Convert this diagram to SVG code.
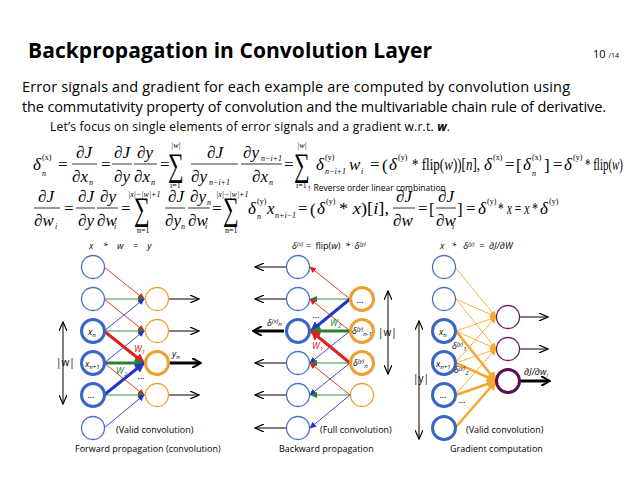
<svg xmlns="http://www.w3.org/2000/svg" width="638" height="493" viewBox="0 0 638 493">
<style>
.t{font-family:"Open Sans","Liberation Sans",sans-serif;fill:#000}
.m{font-family:"Liberation Serif",serif;font-size:17px;fill:#000}
.i{font-style:italic}
.s{font-size:8px}
.sg{font-size:22px}
.fl{stroke:#000;stroke-width:0.8}
.bc{fill:#fff;stroke:#4472C4;stroke-width:1.3}
.bt{fill:#fff;stroke:#3A66C8;stroke-width:3}
.oc{fill:#fff;stroke:#F0A030;stroke-width:1.3}
.ot{fill:#fff;stroke:#F0A030;stroke-width:3}
.pc{fill:#fff;stroke:#6A1F6A;stroke-width:1.3}
.pt{fill:#fff;stroke:#5A1050;stroke-width:3}
.r{stroke:#E02020;fill:none}
.g{stroke:#2A8030;fill:none}
.b{stroke:#2535C8;fill:none}
.o{stroke:#F5A830;fill:none}
.k{stroke:#000;fill:none}
.lbl{font-family:"Open Sans","Liberation Sans",sans-serif;font-size:9px;font-style:italic}
.cap{font-family:"Open Sans","Liberation Sans",sans-serif;font-size:9px}
</style>
<defs>
<marker id="ar" markerWidth="7" markerHeight="6" refX="6" refY="3" orient="auto" markerUnits="userSpaceOnUse"><path d="M0,0L7,3L0,6z" fill="#E02020"/></marker>
<marker id="ag" markerWidth="7" markerHeight="6" refX="6" refY="3" orient="auto" markerUnits="userSpaceOnUse"><path d="M0,0L7,3L0,6z" fill="#2A8030"/></marker>
<marker id="ab" markerWidth="7" markerHeight="6" refX="6" refY="3" orient="auto" markerUnits="userSpaceOnUse"><path d="M0,0L7,3L0,6z" fill="#2535C8"/></marker>
<marker id="ao" markerWidth="7" markerHeight="6" refX="6" refY="3" orient="auto" markerUnits="userSpaceOnUse"><path d="M0,0L7,3L0,6z" fill="#F5A830"/></marker>
<marker id="arT" markerWidth="10" markerHeight="10" refX="9" refY="5" orient="auto" markerUnits="userSpaceOnUse"><path d="M0,0L10,5L0,10z" fill="#E02020"/></marker>
<marker id="agT" markerWidth="10" markerHeight="10" refX="9" refY="5" orient="auto" markerUnits="userSpaceOnUse"><path d="M0,0L10,5L0,10z" fill="#2A8030"/></marker>
<marker id="abT" markerWidth="10" markerHeight="10" refX="9" refY="5" orient="auto" markerUnits="userSpaceOnUse"><path d="M0,0L10,5L0,10z" fill="#2535C8"/></marker>
<marker id="aoT" markerWidth="10" markerHeight="10" refX="9" refY="5" orient="auto" markerUnits="userSpaceOnUse"><path d="M0,0L10,5L0,10z" fill="#F5A830"/></marker>
<marker id="ak" markerWidth="10" markerHeight="8" refX="9" refY="4" orient="auto-start-reverse" markerUnits="userSpaceOnUse"><path d="M0,0L9,4L0,8" fill="none" stroke="#000" stroke-width="1.2"/></marker>
<marker id="akb" markerWidth="10" markerHeight="10" refX="8" refY="5" orient="auto-start-reverse" markerUnits="userSpaceOnUse"><path d="M0,0L9,5L0,10" fill="none" stroke="#000" stroke-width="2"/></marker>
</defs>
<rect width="638" height="493" fill="#fff"/>
<text class="t" x="28" y="58" font-size="21" font-weight="bold" textLength="404">Backpropagation in Convolution Layer</text>
<text class="t" x="593" y="58" font-size="11">10 <tspan font-size="7">/14</tspan></text>
<text class="t" x="22" y="92" font-size="14.5" textLength="548">Error signals and gradient for each example are computed by convolution using</text>
<text class="t" x="22" y="112" font-size="14.5" textLength="584">the commutativity property of convolution and the multivariable chain rule of derivative.</text>
<text class="t" x="50" y="131" font-size="12" textLength="400">Let’s focus on single elements of error signals and a gradient w.r.t. <tspan font-style="italic" font-weight="bold">w</tspan>.</text>

<g id="eq1">
<text class="m i" x="33" y="170">δ</text><text class="m s i" x="42" y="176">n</text><text class="m s" x="42" y="160">(x)</text>
<text class="m" x="58" y="170">=</text>
<text class="m i" x="76" y="158">∂J</text><line class="fl" x1="72" y1="164" x2="97" y2="164"/><text class="m i" x="72" y="182">∂x</text><text class="m s i" x="89" y="185">n</text>
<text class="m" x="101" y="170">=</text>
<text class="m i" x="114" y="158">∂J</text><line class="fl" x1="112" y1="164" x2="132" y2="164"/><text class="m i" x="114" y="182">∂y</text>
<text class="m i" x="137" y="158">∂y</text><line class="fl" x1="134" y1="164" x2="157" y2="164"/><text class="m i" x="134" y="182">∂x</text><text class="m s i" x="151" y="185">n</text>
<text class="m" x="160" y="170">=</text>
<text class="m sg" transform="translate(168,176) scale(1,1.5)">∑</text><text class="m s i" x="171" y="148">|w|</text><text class="m s" x="170" y="188">i=1</text>
<text class="m i" x="207" y="158">∂J</text><line class="fl" x1="191" y1="164" x2="238" y2="164"/><text class="m i" x="191" y="182">∂y</text><text class="m s i" x="209" y="185">n−i+1</text>
<text class="m i" x="243" y="158">∂y</text><text class="m s i" x="261" y="161">n−i+1</text><line class="fl" x1="241" y1="164" x2="282" y2="164"/><text class="m i" x="252" y="182">∂x</text><text class="m s i" x="269" y="185">n</text>
<text class="m" x="284" y="170">=</text>
<text class="m sg" transform="translate(294,176) scale(1,1.5)">∑</text><text class="m s i" x="297" y="148">|w|</text><text class="m s" x="296" y="188">i=1</text>
<text class="m i" x="316" y="170">δ</text><text class="m s" x="325" y="160">(y)</text><text class="m s i" x="325" y="174" font-size="7">n−i+1</text>
<text class="m i" x="349" y="170">w</text><text class="m s i" x="361" y="174">i</text>
<text class="m" x="370" y="170">=</text>
<text class="m" x="382" y="171" font-size="19">(</text>
<text class="m i" x="389" y="170">δ</text><text class="m s" x="398" y="160">(y)</text>
<text class="m" x="412" y="170" textLength="68" lengthAdjust="spacingAndGlyphs">* flip(<tspan class="i">w</tspan>))[<tspan class="i">n</tspan>],</text>
<text class="m i" x="484" y="170">δ</text><text class="m s" x="493" y="160">(x)</text>
<text class="m" x="505" y="170">=</text>
<text class="m" x="516" y="171" font-size="20">[</text>
<text class="m i" x="523" y="170">δ</text><text class="m s" x="532" y="160">(x)</text><text class="m s i" x="532" y="176">n</text>
<text class="m" x="544" y="171" font-size="20">]</text>
<text class="m" x="553" y="170">=</text>
<text class="m i" x="564" y="170">δ</text><text class="m s" x="573" y="160">(y)</text>
<text class="m" x="585" y="170" textLength="38" lengthAdjust="spacingAndGlyphs">* flip(<tspan class="i">w</tspan>)</text>
<text class="t" x="307" y="191" font-size="8.5">↑ Reverse order linear combination</text>
</g>
<g id="eq2">
<text class="m i" x="38" y="202">∂J</text><line class="fl" x1="34" y1="208" x2="60" y2="208"/><text class="m i" x="34" y="226">∂w</text><text class="m s i" x="55" y="229">i</text>
<text class="m" x="64" y="214">=</text>
<text class="m i" x="78" y="202">∂J</text><line class="fl" x1="76" y1="208" x2="95" y2="208"/><text class="m i" x="78" y="226">∂y</text>
<text class="m i" x="100" y="202">∂y</text><line class="fl" x1="97" y1="208" x2="118" y2="208"/><text class="m i" x="97" y="226">∂w</text><text class="m s i" x="114" y="229">i</text>
<text class="m" x="121" y="214">=</text>
<text class="m sg" transform="translate(134,220) scale(1,1.5)">∑</text><text class="m s i" x="128" y="197">|x|−|w|+1</text><text class="m s" x="137" y="233">n=1</text>
<text class="m i" x="168" y="202">∂J</text><line class="fl" x1="165" y1="208" x2="185" y2="208"/><text class="m i" x="165" y="226">∂y</text><text class="m s i" x="181" y="229">n</text>
<text class="m i" x="190" y="202">∂y</text><text class="m s i" x="207" y="205">n</text><line class="fl" x1="188" y1="208" x2="210" y2="208"/><text class="m i" x="188" y="226">∂w</text><text class="m s i" x="205" y="229">i</text>
<text class="m" x="212" y="214">=</text>
<text class="m sg" transform="translate(223,220) scale(1,1.5)">∑</text><text class="m s i" x="216" y="197">|x|−|w|+1</text><text class="m s" x="225" y="233">n=1</text>
<text class="m i" x="248" y="214">δ</text><text class="m s" x="257" y="204">(y)</text><text class="m s i" x="257" y="219">n</text>
<text class="m i" x="267" y="214">x</text><text class="m s i" x="275" y="218">n+i−1</text>
<text class="m" x="298" y="214">=</text>
<text class="m" x="310" y="215" font-size="19">(</text>
<text class="m i" x="317" y="214">δ</text><text class="m s" x="326" y="204">(y)</text>
<text class="m" x="339" y="214" textLength="50" lengthAdjust="spacingAndGlyphs">* <tspan class="i">x</tspan>)[<tspan class="i">i</tspan>],</text>
<text class="m i" x="396" y="202">∂J</text><line class="fl" x1="393" y1="208" x2="415" y2="208"/><text class="m i" x="393" y="226">∂w</text>
<text class="m" x="418" y="214">=</text>
<text class="m" x="429" y="215" font-size="22">[</text>
<text class="m i" x="438" y="202">∂J</text><line class="fl" x1="436" y1="208" x2="456" y2="208"/><text class="m i" x="436" y="226">∂w</text><text class="m s i" x="452" y="229">i</text>
<text class="m" x="457" y="215" font-size="22">]</text>
<text class="m" x="466" y="214">=</text>
<text class="m i" x="478" y="214">δ</text><text class="m s" x="487" y="204">(y)</text>
<text class="m" x="498" y="214" textLength="40" lengthAdjust="spacingAndGlyphs">* <tspan class="i">x</tspan> = <tspan class="i">x</tspan> *</text>
<text class="m i" x="540" y="214">δ</text><text class="m s" x="549" y="204">(y)</text>
</g>

<g id="connectors">
<g stroke-width="0.9">
<line class="r" x1="104" y1="267" x2="144" y2="299" marker-end="url(#ar)"/>
<line class="g" x1="105" y1="299" x2="144" y2="299" marker-end="url(#ag)"/>
<line class="b" x1="104" y1="331" x2="144" y2="299" marker-end="url(#ab)"/>
<line class="r" x1="104" y1="299" x2="144" y2="331" marker-end="url(#ar)"/>
<line class="g" x1="105" y1="331" x2="144" y2="331" marker-end="url(#ag)"/>
<line class="b" x1="104" y1="363" x2="144" y2="331" marker-end="url(#ab)"/>
<line class="r" x1="104" y1="363" x2="144" y2="395" marker-end="url(#ar)"/>
<line class="g" x1="105" y1="395" x2="144" y2="395" marker-end="url(#ag)"/>
<line class="b" x1="104" y1="428" x2="144" y2="395" marker-end="url(#ab)"/>
</g>
<g stroke-width="3">
<line class="r" x1="104" y1="331" x2="144" y2="363" marker-end="url(#arT)"/>
<line class="g" x1="105" y1="363" x2="144" y2="363" marker-end="url(#agT)"/>
<line class="b" x1="104" y1="395" x2="144" y2="363" marker-end="url(#abT)"/>
</g>
<line class="k" x1="169" y1="299" x2="199" y2="299" marker-end="url(#ak)"/>
<line class="k" x1="169" y1="331" x2="199" y2="331" marker-end="url(#ak)"/>
<line class="k" x1="169" y1="363" x2="200" y2="363" stroke-width="3" marker-end="url(#akb)"/>
<line class="k" x1="169" y1="395" x2="199" y2="395" marker-end="url(#ak)"/>
<line class="k" x1="63" y1="322" x2="63" y2="404" marker-start="url(#ak)" marker-end="url(#ak)"/>

<g stroke-width="0.9">
<line class="r" x1="350" y1="299" x2="310" y2="267" marker-end="url(#ar)"/>
<line class="g" x1="350" y1="299" x2="311" y2="299" marker-end="url(#ag)"/>
<line class="r" x1="350" y1="331" x2="310" y2="299" marker-end="url(#ar)"/>
<line class="b" x1="350" y1="331" x2="310" y2="363" marker-end="url(#ab)"/>
<line class="g" x1="350" y1="363" x2="311" y2="363" marker-end="url(#ag)"/>
<line class="b" x1="350" y1="363" x2="310" y2="395" marker-end="url(#ab)"/>
<line class="r" x1="350" y1="395" x2="310" y2="363" marker-end="url(#ar)"/>
<line class="g" x1="350" y1="395" x2="311" y2="395" marker-end="url(#ag)"/>
<line class="b" x1="350" y1="395" x2="310" y2="428" marker-end="url(#ab)"/>
</g>
<g stroke-width="3">
<line class="b" x1="350" y1="299" x2="311" y2="331" marker-end="url(#abT)"/>
<line class="g" x1="350" y1="331" x2="311" y2="331" marker-end="url(#agT)"/>
<line class="r" x1="350" y1="363" x2="311" y2="331" marker-end="url(#arT)"/>
</g>
<line class="k" x1="286" y1="267" x2="255" y2="267" marker-end="url(#ak)"/>
<line class="k" x1="286" y1="299" x2="255" y2="299" marker-end="url(#ak)"/>
<line class="k" x1="284" y1="331" x2="254" y2="331" stroke-width="3" marker-end="url(#akb)"/>
<line class="k" x1="286" y1="363" x2="255" y2="363" marker-end="url(#ak)"/>
<line class="k" x1="286" y1="395" x2="255" y2="395" marker-end="url(#ak)"/>
<line class="k" x1="286" y1="428" x2="255" y2="428" marker-end="url(#ak)"/>
<line class="k" x1="388" y1="291" x2="388" y2="374" marker-start="url(#ak)" marker-end="url(#ak)"/>
<line class="k" x1="419" y1="321" x2="419" y2="439" marker-start="url(#ak)" marker-end="url(#ak)"/>

<g stroke-width="0.9">
<line class="o" x1="455" y1="267" x2="496" y2="317" marker-end="url(#ao)"/>
<line class="o" x1="456" y1="299" x2="496" y2="317" marker-end="url(#ao)"/>
<line class="o" x1="456" y1="331" x2="496" y2="317" marker-end="url(#ao)"/>
<line class="o" x1="455" y1="363" x2="496" y2="317" marker-end="url(#ao)"/>
<line class="o" x1="456" y1="299" x2="496" y2="349" marker-end="url(#ao)"/>
<line class="o" x1="456" y1="331" x2="496" y2="349" marker-end="url(#ao)"/>
<line class="o" x1="456" y1="363" x2="496" y2="349" marker-end="url(#ao)"/>
<line class="o" x1="455" y1="395" x2="496" y2="349" marker-end="url(#ao)"/>
</g>
<g stroke-width="2.6">
<line class="o" x1="456" y1="331" x2="496" y2="381" marker-end="url(#aoT)"/>
<line class="o" x1="456" y1="363" x2="496" y2="381" marker-end="url(#aoT)"/>
<line class="o" x1="456" y1="395" x2="496" y2="381" marker-end="url(#aoT)"/>
<line class="o" x1="455" y1="428" x2="496" y2="381" marker-end="url(#aoT)"/>
</g>
<line class="k" x1="520" y1="317" x2="548" y2="317" marker-end="url(#ak)"/>
<line class="k" x1="520" y1="349" x2="548" y2="349" marker-end="url(#ak)"/>
<line class="k" x1="520" y1="381" x2="549" y2="381" stroke-width="3" marker-end="url(#akb)"/>
</g>

<g id="forward">
<text class="lbl" x="89" y="249">x &#160;&#160;&#160;* &#160;&#160;&#160;w &#160;&#160;&#160;= &#160;&#160;&#160;y</text>
<circle class="bc" cx="93" cy="267" r="11.5"/><circle class="bc" cx="93" cy="299" r="11.5"/>
<circle class="bt" cx="93" cy="331" r="11.5"/><circle class="bt" cx="93" cy="363" r="11.5"/><circle class="bt" cx="93" cy="395" r="11.5"/>
<circle class="bc" cx="93" cy="428" r="11.5"/>
<circle class="oc" cx="157" cy="299" r="11.5"/><circle class="oc" cx="157" cy="331" r="11.5"/><circle class="ot" cx="157" cy="363" r="11.5"/><circle class="oc" cx="157" cy="395" r="11.5"/>
<text class="lbl" x="88" y="335">x<tspan font-size="6" dy="2">n</tspan></text>
<text class="lbl" x="85" y="367">x<tspan font-size="6" dy="2">n+1</tspan></text>
<text class="lbl" x="88" y="398">…</text>
<text class="lbl" x="134" y="352" fill="#E02020">W<tspan font-size="6" dy="2">1</tspan></text>
<text class="lbl" x="116" y="374" fill="#2A8030">W<tspan font-size="6" dy="2">2</tspan></text>
<text class="lbl" x="138" y="379">…</text>
<text class="lbl" x="172" y="357">y<tspan font-size="6" dy="2">n</tspan></text>
<text class="t" x="56" y="366" font-size="10">|w|</text>
<text class="cap" x="116" y="433" font-size="7">(Valid convolution)</text>
<text class="cap" x="75" y="452">Forward propagation (convolution)</text>
</g>

<g id="backward">
<text class="lbl" x="292" y="249">δ<tspan font-size="6" dy="-3">(x)</tspan><tspan dy="3"> = &#160;</tspan><tspan font-style="normal">flip(</tspan>w<tspan font-style="normal">)</tspan> &#160;* &#160;δ<tspan font-size="6" dy="-3">(y)</tspan></text>
<circle class="bc" cx="298" cy="267" r="11.5"/><circle class="bc" cx="298" cy="299" r="11.5"/>
<circle class="bt" cx="298" cy="331" r="11.5"/>
<circle class="bc" cx="298" cy="363" r="11.5"/><circle class="bc" cx="298" cy="395" r="11.5"/><circle class="bc" cx="298" cy="428" r="11.5"/>
<circle class="ot" cx="362" cy="299" r="11.5"/><circle class="ot" cx="362" cy="331" r="11.5"/><circle class="ot" cx="362" cy="363" r="11.5"/><circle class="oc" cx="362" cy="395" r="11.5"/>
<text class="lbl" x="357" y="303">…</text>
<text class="lbl" x="352" y="334">δ<tspan font-size="6" dy="-3">(y)</tspan><tspan font-size="6" dy="5">n-1</tspan></text>
<text class="lbl" x="353" y="366">δ<tspan font-size="6" dy="-3">(y)</tspan><tspan font-size="6" dy="5">n</tspan></text>
<text class="lbl" x="267" y="326">δ<tspan font-size="6" dy="-3">(x)</tspan><tspan font-size="6" dy="3">n</tspan></text>
<text class="lbl" x="313" y="318">…</text>
<text class="lbl" x="330" y="326" fill="#2A8030">W<tspan font-size="6" dy="2">2</tspan></text>
<text class="lbl" x="312" y="349" fill="#E02020">W<tspan font-size="6" dy="2">1</tspan></text>
<text class="t" x="378" y="336" font-size="10">|w|</text>
<text class="t" x="413" y="382" font-size="10">|y|</text>
<text class="cap" x="320" y="433" font-size="7">(Full convolution)</text>
<text class="cap" x="279" y="452">Backward propagation</text>
</g>

<g id="gradient">
<text class="lbl" x="440" y="249">x &#160;&#160;* &#160;&#160;δ<tspan font-size="6" dy="-3">(y)</tspan><tspan dy="3"> &#160;= &#160;∂J/∂W</tspan></text>
<circle class="bc" cx="444" cy="267" r="11.5"/><circle class="bc" cx="444" cy="299" r="11.5"/>
<circle class="bt" cx="444" cy="331" r="11.5"/><circle class="bt" cx="444" cy="363" r="11.5"/><circle class="bt" cx="444" cy="395" r="11.5"/><circle class="bt" cx="444" cy="428" r="11.5"/>
<circle class="pc" cx="508" cy="317" r="11.5"/><circle class="pc" cx="508" cy="349" r="11.5"/><circle class="pt" cx="508" cy="381" r="11.5"/>
<text class="lbl" x="439" y="335">x<tspan font-size="6" dy="2">n</tspan></text>
<text class="lbl" x="436" y="367">x<tspan font-size="6" dy="2">n+1</tspan></text>
<text class="lbl" x="440" y="398">…</text>
<text class="lbl" x="452" y="349">δ<tspan font-size="6" dy="-3">(y)</tspan><tspan font-size="6" dy="5">1</tspan></text>
<text class="lbl" x="454" y="373">δ<tspan font-size="6" dy="-3">(y)</tspan><tspan font-size="6" dy="5">2</tspan></text>
<text class="lbl" x="459" y="403">…</text>
<text class="lbl" x="524" y="375">∂J/∂w<tspan font-size="6" dy="2">i</tspan></text>
<text class="cap" x="466" y="433" font-size="7">(Valid convolution)</text>
<text class="cap" x="450" y="452">Gradient computation</text>
</g>
</svg>
